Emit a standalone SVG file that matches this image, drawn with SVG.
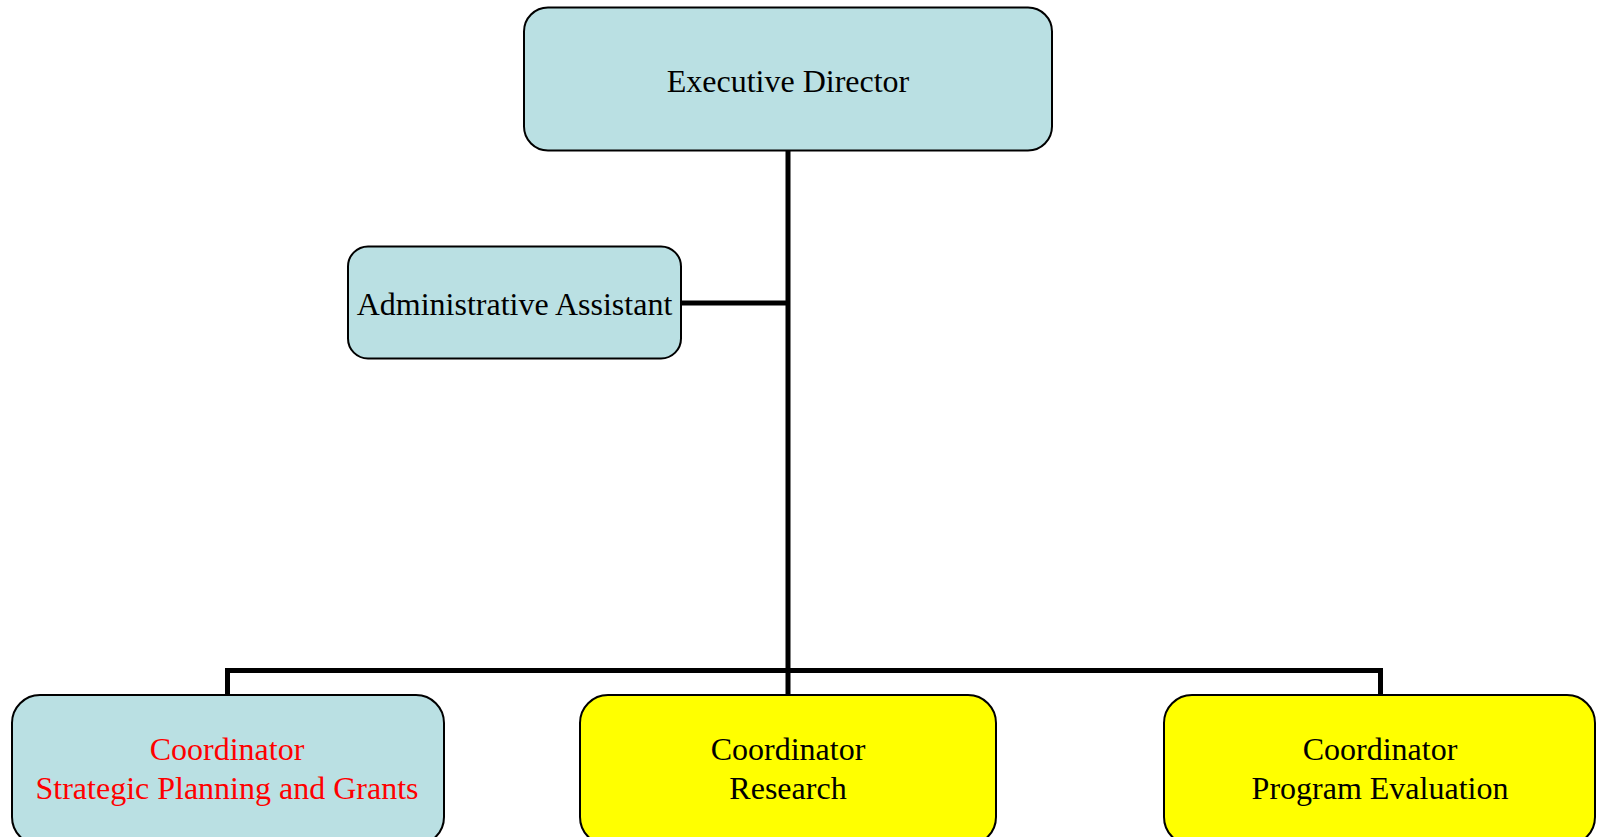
<svg xmlns="http://www.w3.org/2000/svg" width="1600" height="837" viewBox="0 0 1600 837">
<style>
.box{stroke:#000;stroke-width:2}
.blue{fill:#BAE0E3}
.yellow{fill:#FFFF00}
.t{font-family:"Liberation Serif","Times New Roman",serif;font-size:32px;text-anchor:middle;fill:#000}
.red{fill:#FF0000}
.conn{fill:none;stroke:#000;stroke-width:5}
</style>
<rect width="1600" height="837" fill="#fff"/>
<g id="connectors">
<path class="conn" d="M788 151V695"/>
<path class="conn" d="M681 303H788"/>
<path class="conn" d="M227.5 695V670.5H1380.5V695"/>
</g>
<g id="executive-director">
<rect class="box blue" x="524" y="7.5" width="528" height="143" rx="24"/>
<text class="t" x="788" y="92">Executive Director</text>
</g>
<g id="administrative-assistant">
<rect class="box blue" x="348" y="246.5" width="333" height="112" rx="20"/>
<text class="t" x="514.5" y="315">Administrative Assistant</text>
</g>
<g id="coordinator-strategic">
<rect class="box blue" x="12" y="695" width="432" height="150" rx="28"/>
<text class="t red" x="227" y="760">Coordinator</text>
<text class="t red" x="227" y="799">Strategic Planning and Grants</text>
</g>
<g id="coordinator-research">
<rect class="box yellow" x="580" y="695" width="416" height="150" rx="28"/>
<text class="t" x="788" y="760">Coordinator</text>
<text class="t" x="788" y="799">Research</text>
</g>
<g id="coordinator-program">
<rect class="box yellow" x="1164" y="695" width="431" height="150" rx="28"/>
<text class="t" x="1380" y="760">Coordinator</text>
<text class="t" x="1380" y="799">Program Evaluation</text>
</g>
</svg>
